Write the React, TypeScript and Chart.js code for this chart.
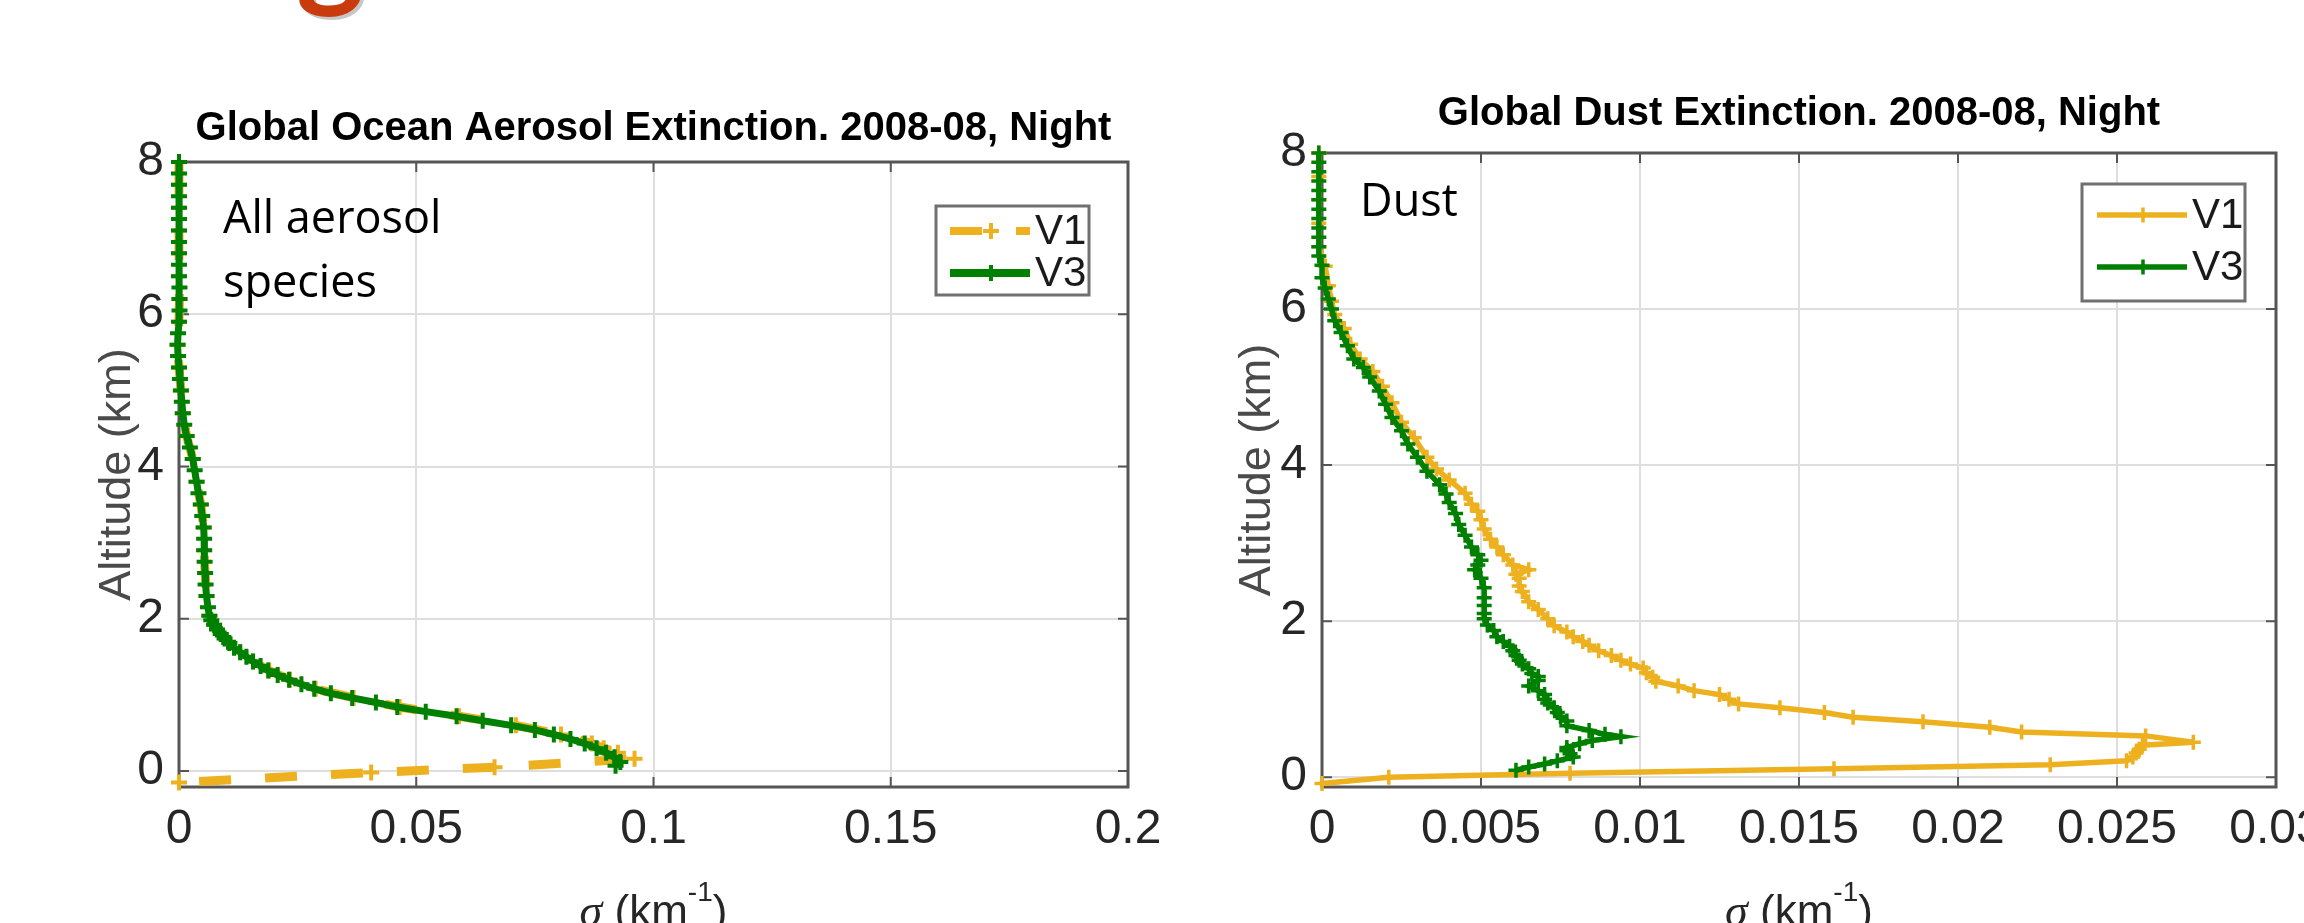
import React, { useEffect, useRef } from 'react';
import { Chart, registerables } from 'chart.js';

Chart.register(...registerables);

// ---------------- data ----------------
const seriesNames = ['V1', 'V3'];
const yTicks = [0, 2, 4, 6, 8];
const oceanXTicks = [0, 0.05, 0.1, 0.15, 0.2];
const dustXTicks = [0, 0.005, 0.01, 0.015, 0.02, 0.025, 0.03];
const oceanTitle = 'Global Ocean Aerosol Extinction. 2008-08, Night';
const dustTitle = 'Global Dust Extinction. 2008-08, Night';
const yAxisTitle = 'Altitude (km)';
const xAxisTitleParts = ['σ', ' (km', '-1', ')'];
const oceanNote = ['All aerosol', 'species'];
const dustNote = ['Dust'];

// Ocean (all aerosol) – V1
const oceanV1Alt = [8.0, 7.7, 7.4, 7.1, 6.8, 6.5, 6.2, 5.9, 5.6, 5.3, 5.0, 4.7, 4.4, 4.1, 3.8, 3.5, 3.2, 2.9, 2.6, 2.3, 2.04, 1.92, 1.8, 1.68, 1.56, 1.44, 1.32, 1.2, 1.08, 0.96, 0.84, 0.72, 0.6, 0.48, 0.36, 0.3, 0.24, 0.16, 0.05, -0.02, -0.15];
const oceanV1Ext = [0, 0, 0, 0, 0, 0, 0.0001, 0, -0.0003, 0, 0.0004, 0.0008, 0.0016, 0.0029, 0.0037, 0.0046, 0.0052, 0.0053, 0.0055, 0.0058, 0.0064, 0.0074, 0.0088, 0.0106, 0.0129, 0.0156, 0.019, 0.0234, 0.0288, 0.0368, 0.0465, 0.059, 0.071, 0.0805, 0.087, 0.0895, 0.0925, 0.096, 0.0665, 0.0405, 0.0];

// Ocean (all aerosol) – V3
const oceanV3Alt = [8.0, 7.85, 7.7, 7.55, 7.4, 7.25, 7.1, 6.95, 6.8, 6.65, 6.5, 6.35, 6.2, 6.05, 5.9, 5.75, 5.6, 5.45, 5.3, 5.15, 5.0, 4.85, 4.7, 4.55, 4.4, 4.25, 4.1, 3.95, 3.8, 3.65, 3.5, 3.35, 3.2, 3.05, 2.9, 2.75, 2.6, 2.45, 2.3, 2.15, 2.04, 1.98, 1.92, 1.86, 1.8, 1.74, 1.68, 1.62, 1.56, 1.5, 1.44, 1.38, 1.32, 1.26, 1.2, 1.14, 1.08, 1.02, 0.96, 0.9, 0.84, 0.78, 0.72, 0.66, 0.6, 0.54, 0.48, 0.42, 0.36, 0.3, 0.24, 0.18, 0.12, 0.07];
const oceanV3Ext = [0, 0, 0, 0, 0, 0, 0, 0, 0, 0, 0, 0.0001, 0.0001, 0.0001, 0, -0.0002, -0.0003, -0.0002, 0, 0.0002, 0.0004, 0.0006, 0.0008, 0.0011, 0.0016, 0.0023, 0.0029, 0.0033, 0.0037, 0.0041, 0.0046, 0.0049, 0.0052, 0.0053, 0.0053, 0.0054, 0.0055, 0.0056, 0.0058, 0.0061, 0.0064, 0.0068, 0.0074, 0.008, 0.0088, 0.0096, 0.0106, 0.0116, 0.0129, 0.0142, 0.0156, 0.0172, 0.0188, 0.0208, 0.0232, 0.0258, 0.0285, 0.032, 0.0365, 0.0415, 0.046, 0.052, 0.0585, 0.064, 0.07, 0.075, 0.079, 0.0825, 0.0855, 0.088, 0.09, 0.0918, 0.093, 0.092];

// Dust – V1
const dustV1Alt = [8.0, 7.7, 7.4, 7.1, 6.8, 6.55, 6.3, 6.1, 5.93, 5.75, 5.55, 5.36, 5.2, 5.01, 4.8, 4.55, 4.35, 4.1, 3.95, 3.81, 3.64, 3.5, 3.41, 3.3, 3.18, 3.05, 2.95, 2.85, 2.72, 2.66, 2.6, 2.55, 2.45, 2.38, 2.25, 2.15, 2.03, 1.94, 1.86, 1.8, 1.74, 1.69, 1.62, 1.56, 1.5, 1.45, 1.4, 1.34, 1.28, 1.23, 1.17, 1.11, 1.06, 1.0, 0.94, 0.89, 0.83, 0.77, 0.71, 0.64, 0.58, 0.53, 0.45, 0.41, 0.36, 0.31, 0.26, 0.21, 0.16, 0.11, 0.05, 0.0, -0.08];
const dustV1Ext = [-0.0001, -0.0001, -0.0001, -0.0001, -0.0001, 0.0001, 0.0002, 0.0003, 0.0004, 0.0007, 0.0009, 0.0012, 0.0016, 0.0019, 0.0022, 0.0025, 0.0029, 0.0033, 0.0036, 0.004, 0.0045, 0.0047, 0.0049, 0.005, 0.0051, 0.0053, 0.0055, 0.0057, 0.006, 0.0065, 0.0061, 0.0062, 0.0062, 0.0063, 0.0065, 0.0068, 0.0071, 0.0073, 0.0077, 0.0079, 0.0082, 0.0084, 0.0087, 0.0091, 0.0094, 0.0097, 0.0101, 0.0102, 0.0104, 0.0105, 0.0112, 0.0117, 0.0125, 0.0128, 0.0131, 0.0144, 0.0158, 0.0167, 0.0189, 0.021, 0.022, 0.0259, 0.0274, 0.0258, 0.0257, 0.0256, 0.0255, 0.0253, 0.0229, 0.0161, 0.0078, 0.0021, 0.0];

// Dust – V3
const dustV3Alt = [8.0, 7.88, 7.76, 7.64, 7.52, 7.4, 7.28, 7.16, 7.04, 6.92, 6.8, 6.68, 6.56, 6.4, 6.27, 6.13, 6.0, 5.85, 5.7, 5.53, 5.36, 5.25, 5.13, 4.95, 4.78, 4.61, 4.44, 4.27, 4.1, 3.92, 3.75, 3.63, 3.52, 3.38, 3.24, 3.1, 2.95, 2.85, 2.78, 2.72, 2.66, 2.55, 2.43, 2.3, 2.2, 2.1, 2.03, 1.95, 1.88, 1.8, 1.74, 1.68, 1.62, 1.56, 1.5, 1.45, 1.39, 1.33, 1.29, 1.24, 1.17, 1.11, 1.06, 1.0, 0.95, 0.89, 0.83, 0.78, 0.72, 0.66, 0.6, 0.55, 0.52, 0.47, 0.43, 0.38, 0.34, 0.3, 0.26, 0.21, 0.17, 0.13, 0.09];
const dustV3Ext = [-0.0001, -0.0001, -0.0001, -0.0001, -0.0001, -0.0001, -0.0001, -0.0001, -0.0001, -0.0001, -0.0001, -0.0001, 0.0, 0.0, 0.0001, 0.0002, 0.0003, 0.0004, 0.0006, 0.0008, 0.001, 0.0013, 0.0015, 0.0018, 0.002, 0.0022, 0.0025, 0.0027, 0.003, 0.0033, 0.0037, 0.0039, 0.004, 0.0042, 0.0043, 0.0045, 0.0047, 0.0049, 0.005, 0.0049, 0.0048, 0.005, 0.0051, 0.0051, 0.0051, 0.0051, 0.0051, 0.0052, 0.0054, 0.0055, 0.0057, 0.0059, 0.006, 0.0061, 0.0062, 0.0063, 0.0065, 0.0066, 0.0068, 0.0068, 0.0065, 0.0068, 0.007, 0.007, 0.0071, 0.0073, 0.0074, 0.0075, 0.0077, 0.0077, 0.0084, 0.0089, 0.0094, 0.0085, 0.0081, 0.0077, 0.0077, 0.0078, 0.0079, 0.0074, 0.007, 0.0065, 0.0061];

// ---------------- styles ----------------
const V1_COLOR = '#EDB120';
const V3_COLOR = '#008000';
const FRAME_COLOR = '#555555';
const GRID_COLOR = '#dedede';
const TICK_COLOR = '#262626';
const SANS = "'Liberation Sans', Arial, Helvetica, sans-serif";
const NARROW = "'Liberation Sans Narrow', 'Arial Narrow', 'Liberation Sans', Arial, sans-serif";
const NOTE_FONT = "'Open Sans', 'Noto Sans', sans-serif";
const CANVAS_H = 960;

const toPoints = (alt: number[], ext: number[]) => alt.map((a, i) => ({ x: ext[i], y: a }));

type Spec = {
  title: string;
  titlePadTop: number;
  titlePadBottom: number;
  xTicks: number[];
  xMin: number; xMax: number; yMin: number; yMax: number;
  yAxisWidth: number;
  padRight: number;
  chartBottom: number;
  yTitlePad: number;
  v1: { x: number; y: number }[];
  v3: { x: number; y: number }[];
  v1Width: number; v3Width: number; v1Dash: number[];
  markerR: number; markerW: number;
  legend: { x: number; y: number; w: number; h: number; rows: number[]; x0: number; x1: number; mx: number; tx: number; lw: number[] };
  note: string[]; noteX: number; noteY: number[];
  xTitleBaseline: number;
};

function decorPlugin(spec: Spec) {
  return {
    id: 'decor',
    beforeDatasetsDraw(chart: any) {
      const { ctx, chartArea: a, scales } = chart;
      ctx.save();
      ctx.strokeStyle = FRAME_COLOR;
      ctx.lineWidth = 2;
      ctx.beginPath();
      for (const t of scales.x.ticks) {
        const px = scales.x.getPixelForValue(t.value);
        ctx.moveTo(px, a.bottom); ctx.lineTo(px, a.bottom - 10);
        ctx.moveTo(px, a.top); ctx.lineTo(px, a.top + 10);
      }
      for (const t of scales.y.ticks) {
        const py = scales.y.getPixelForValue(t.value);
        ctx.moveTo(a.left, py); ctx.lineTo(a.left + 10, py);
        ctx.moveTo(a.right, py); ctx.lineTo(a.right - 10, py);
      }
      ctx.stroke();
      ctx.lineWidth = 3;
      ctx.strokeRect(a.left, a.top, a.right - a.left, a.bottom - a.top);
      ctx.restore();
    },
    afterDraw(chart: any) {
      const { ctx, chartArea: a } = chart;
      ctx.save();
      // legend
      const lg = spec.legend;
      ctx.fillStyle = '#ffffff';
      ctx.fillRect(lg.x, lg.y, lg.w, lg.h);
      ctx.strokeStyle = '#707070';
      ctx.lineWidth = 3;
      ctx.strokeRect(lg.x, lg.y, lg.w, lg.h);
      const dsets = chart.data.datasets;
      lg.rows.forEach((ry, i) => {
        const ds = dsets[i];
        ctx.strokeStyle = ds.borderColor;
        ctx.lineWidth = lg.lw[i];
        ctx.setLineDash(ds.borderDash || []);
        ctx.beginPath(); ctx.moveTo(lg.x0, ry); ctx.lineTo(lg.x1, ry); ctx.stroke();
        ctx.setLineDash([]);
        ctx.lineWidth = spec.markerW;
        const r = spec.markerR;
        ctx.beginPath();
        ctx.moveTo(lg.mx - r, ry); ctx.lineTo(lg.mx + r, ry);
        ctx.moveTo(lg.mx, ry - r); ctx.lineTo(lg.mx, ry + r);
        ctx.stroke();
        ctx.fillStyle = '#1a1a1a';
        ctx.font = `42px ${NARROW}`;
        ctx.textAlign = 'left';
        ctx.textBaseline = 'middle';
        ctx.fillText(ds.label, lg.tx, ry + 1);
      });
      // annotation
      ctx.fillStyle = '#000000';
      ctx.font = `45px ${NOTE_FONT}`;
      ctx.textAlign = 'left';
      ctx.textBaseline = 'alphabetic';
      spec.note.forEach((line, i) => ctx.fillText(line, spec.noteX, spec.noteY[i]));
      // x-axis title: italic sigma, (km^-1)
      const fonts = [
        `italic 46px 'Liberation Serif', 'DejaVu Serif', serif`,
        `44px ${NARROW}`,
        `28px ${NARROW}`,
        `44px ${NARROW}`,
      ];
      const dys = [0, 0, -25, 0];
      const widths = xAxisTitleParts.map((t, i) => { ctx.font = fonts[i]; return ctx.measureText(t).width; });
      const total = widths.reduce((s, w) => s + w, 0);
      let x = (a.left + a.right) / 2 - total / 2;
      ctx.fillStyle = TICK_COLOR;
      xAxisTitleParts.forEach((t, i) => {
        ctx.font = fonts[i];
        ctx.fillText(t, x, spec.xTitleBaseline + dys[i]);
        x += widths[i];
      });
      ctx.restore();
    },
  };
}

function buildConfig(spec: Spec): any {
  const common = {
    showLine: true,
    pointStyle: 'cross',
    pointRadius: spec.markerR,
    pointHoverRadius: spec.markerR,
    pointBorderWidth: spec.markerW,
    clip: false,
    tension: 0,
  };
  return {
    type: 'scatter',
    data: {
      datasets: [
        { ...common, label: seriesNames[0], data: spec.v1, borderColor: V1_COLOR, backgroundColor: V1_COLOR, pointBorderColor: V1_COLOR, borderWidth: spec.v1Width, borderDash: spec.v1Dash, order: 2 },
        { ...common, label: seriesNames[1], data: spec.v3, borderColor: V3_COLOR, backgroundColor: V3_COLOR, pointBorderColor: V3_COLOR, borderWidth: spec.v3Width, order: 1 },
      ],
    },
    options: {
      responsive: false,
      maintainAspectRatio: false,
      animation: false,
      events: [],
      layout: { padding: { left: 0, top: 0, right: spec.padRight, bottom: 0 } },
      plugins: {
        legend: { display: false },
        tooltip: { enabled: false },
        title: {
          display: true,
          text: spec.title,
          fullSize: false,
          color: '#000000',
          font: { family: SANS, size: 40, weight: 'bold', lineHeight: 1.2 },
          padding: { top: spec.titlePadTop, bottom: spec.titlePadBottom },
        },
      },
      scales: {
        x: {
          type: 'linear',
          position: 'bottom',
          min: spec.xMin,
          max: spec.xMax,
          afterBuildTicks: (s: any) => { s.ticks = spec.xTicks.map((v) => ({ value: v })); },
          afterFit: (s: any) => { s.height = CANVAS_H - spec.chartBottom; },
          grid: { color: GRID_COLOR, lineWidth: 2, drawTicks: false },
          border: { display: false },
          ticks: { padding: 14, color: TICK_COLOR, font: { family: NARROW, size: 48 }, maxRotation: 0, autoSkip: false, callback: (v: number) => String(v) },
        },
        y: {
          type: 'linear',
          position: 'left',
          min: spec.yMin,
          max: spec.yMax,
          afterBuildTicks: (s: any) => { s.ticks = yTicks.map((v) => ({ value: v })); },
          afterFit: (s: any) => { s.width = spec.yAxisWidth; },
          grid: { color: GRID_COLOR, lineWidth: 2, drawTicks: false },
          border: { display: false },
          ticks: { padding: 15, color: TICK_COLOR, font: { family: NARROW, size: 48 }, autoSkip: false, callback: (v: number) => String(v) },
          title: {
            display: true,
            text: yAxisTitle,
            color: '#4a4a4a',
            font: { family: SANS, size: 45, lineHeight: 1.2 },
            padding: { top: spec.yTitlePad, bottom: 0 },
          },
        },
      },
    },
    plugins: [decorPlugin(spec)],
  };
}

const oceanSpec: Spec = {
  title: oceanTitle,
  titlePadTop: 105,
  titlePadBottom: 9,
  xTicks: oceanXTicks,
  xMin: 0, xMax: 0.2, yMin: -0.21, yMax: 8,
  yAxisWidth: 179,
  padRight: 52,
  chartBottom: 787,
  yTitlePad: 91,
  v1: toPoints(oceanV1Alt, oceanV1Ext),
  v3: toPoints(oceanV3Alt, oceanV3Ext),
  v1Width: 9, v3Width: 7, v1Dash: [32, 34],
  markerR: 8, markerW: 4,
  legend: { x: 936, y: 206, w: 153, h: 89, rows: [231, 273], x0: 950, x1: 1030, mx: 991, tx: 1035, lw: [8, 8] },
  note: oceanNote, noteX: 223, noteY: [233, 297],
  xTitleBaseline: 926,
};

const dustSpec: Spec = {
  title: dustTitle,
  titlePadTop: 90,
  titlePadBottom: 15,
  xTicks: dustXTicks,
  xMin: 0, xMax: 0.03, yMin: -0.125, yMax: 8,
  yAxisWidth: 172,
  padRight: 74,
  chartBottom: 787,
  yTitlePad: 81,
  v1: toPoints(dustV1Alt, dustV1Ext),
  v3: toPoints(dustV3Alt, dustV3Ext),
  v1Width: 5.5, v3Width: 5.5, v1Dash: [],
  markerR: 7.5, markerW: 3.5,
  legend: { x: 932, y: 184, w: 163, h: 117, rows: [215, 267], x0: 947, x1: 1037, mx: 993, tx: 1042, lw: [5.5, 5.5] },
  note: dustNote, noteX: 210, noteY: [216],
  xTitleBaseline: 926,
};

function Panel({ spec, left, width }: { spec: Spec; left: number; width: number }) {
  const ref = useRef<HTMLCanvasElement | null>(null);
  useEffect(() => {
    if (!ref.current) return;
    const chart = new Chart(ref.current, buildConfig(spec));
    return () => chart.destroy();
  }, [spec]);
  return (
    <canvas
      ref={ref}
      width={width}
      height={CANVAS_H}
      style={{ position: 'absolute', left, top: 0, width, height: CANVAS_H, display: 'block' }}
    />
  );
}

export default function App() {
  return (
    <div style={{ position: 'fixed', left: 0, top: 0, width: 2304, height: 923, overflow: 'hidden', background: '#ffffff' }}>
      <svg width={600} height={60} style={{ position: 'absolute', left: 0, top: 0 }}>
        <text x={299} y={-4} fontFamily="Lato, 'Open Sans', sans-serif" fontWeight="bold" fontSize={130} fill="rgba(0,0,0,0.22)">g</text>
        <text x={296} y={-7} fontFamily="Lato, 'Open Sans', sans-serif" fontWeight="bold" fontSize={130} fill="#C93A0C">g</text>
      </svg>
      <Panel spec={oceanSpec} left={0} width={1180} />
      <Panel spec={dustSpec} left={1150} width={1200} />
    </div>
  );
}
